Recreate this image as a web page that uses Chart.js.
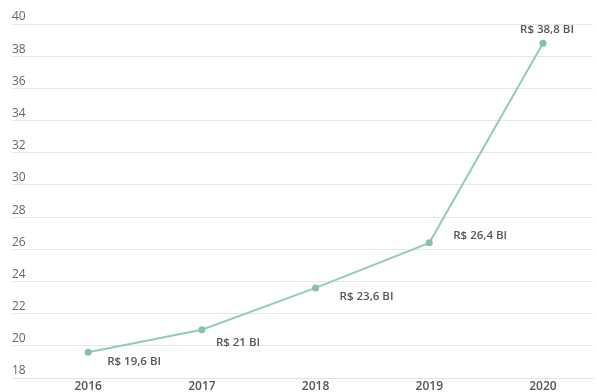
<!DOCTYPE html>
<html>
<head>
<meta charset="utf-8">
<script src="https://cdn.jsdelivr.net/npm/chart.js@4/dist/chart.umd.min.js"></script>
<style>
  html, body { margin: 0; padding: 0; background: #fff; }
  #wrap { width: 597px; height: 392px; position: relative; }
</style>
</head>
<body>
<div id="wrap"><canvas id="chart"></canvas></div>
<script>
const years  = [2016, 2017, 2018, 2019, 2020];
const values = [19.6, 21, 23.6, 26.4, 38.8];
const yTicks = [18, 20, 22, 24, 26, 28, 30, 32, 34, 36, 38, 40];

const FONT = "'Open Sans', 'Noto Sans', sans-serif";

function fmtBi(v) {
  return "R$ " + String(v).replace(".", ",") + " BI";
}

// ── Value labels next to each point ──
const labelPos = [
  { dx: 19, dy: 9,  align: "left" },
  { dx: 14, dy: 13, align: "left" },
  { dx: 24, dy: 9,  align: "left" },
  { dx: 24, dy: -7, align: "left" },
  { dx: 4,  dy: -14, align: "center" },
];

const valueLabels = {
  id: "valueLabels",
  afterDatasetsDraw(chart) {
    const ctx  = chart.ctx;
    const meta = chart.getDatasetMeta(0);
    ctx.save();
    ctx.font = "600 11.5px " + FONT;
    ctx.fillStyle = "#555";
    ctx.textBaseline = "middle";
    meta.data.forEach((pt, i) => {
      const p = labelPos[i];
      ctx.textAlign = p.align;
      ctx.fillText(fmtBi(values[i]), pt.x + p.dx, pt.y + p.dy);
    });
    ctx.restore();
  },
};

new Chart(document.getElementById("chart").getContext("2d"), {
  type: "line",
  data: {
    datasets: [{
      data: years.map((y, i) => ({ x: y, y: values[i] })),
      borderColor: "#93cdb3",
      borderWidth: 2,
      pointRadius: 3.5,
      pointBackgroundColor: "#86c2a5",
      pointBorderWidth: 0,
      tension: 0,
      fill: false,
    }],
  },
  options: {
    responsive: true, maintainAspectRatio: false, animation: false,
    layout: { padding: { left: 12, right: 0, top: 24, bottom: -4 } },
    plugins: { legend: { display: false }, tooltip: { enabled: false } },
    scales: {
      x: {
        type: "linear",
        min: 2015.33, max: 2020.44,
        afterBuildTicks: s => { s.ticks = years.map(v => ({ value: v })); },
        grid: { display: false, drawTicks: false },
        border: { display: true, color: "#e3e3e3" },
        ticks: {
          color: "#555", padding: 3,
          font: { family: FONT, size: 12, weight: "600", lineHeight: 1 },
          callback: v => String(v),
        },
      },
      y: {
        min: 18, max: 40,
        afterBuildTicks: s => { s.ticks = yTicks.map(v => ({ value: v })); },
        grid: { color: "#e6e6e6", lineWidth: 1, drawTicks: false },
        border: { display: false },
        ticks: {
          mirror: true, padding: 0, labelOffset: -7,
          color: "#666",
          font: { family: FONT, size: 12 },
        },
      },
    },
  },
  plugins: [valueLabels],
});
</script>
</body>
</html>
